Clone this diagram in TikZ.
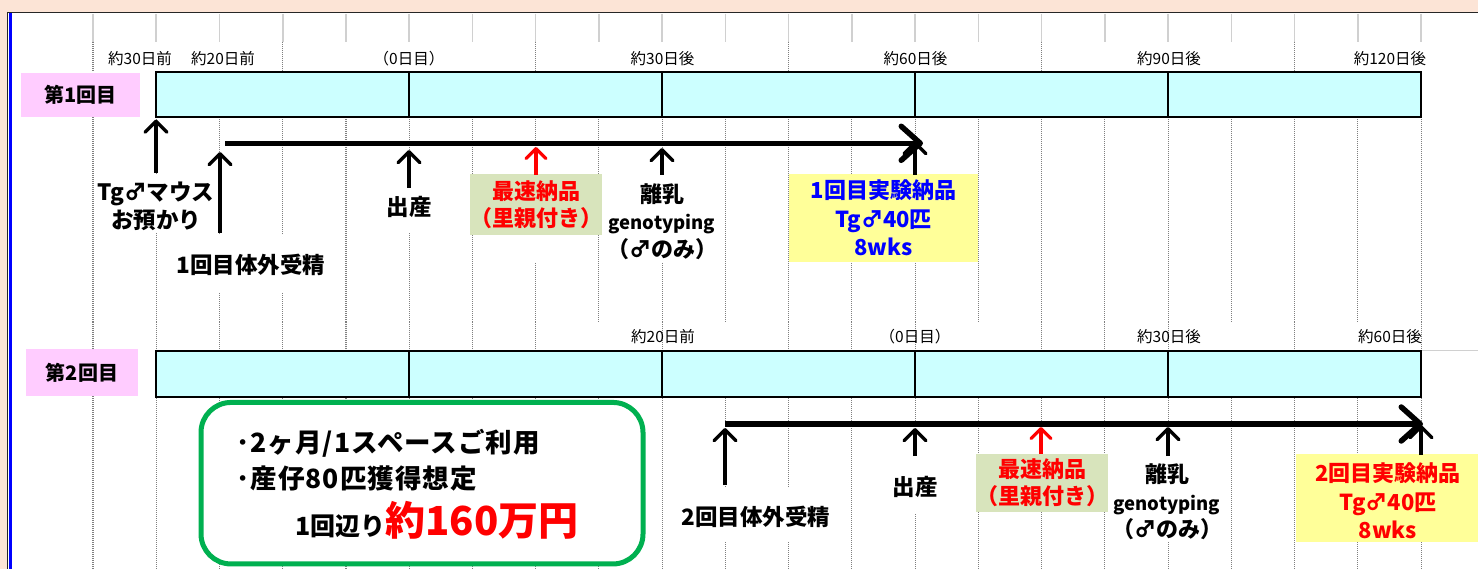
\documentclass[tikz,border=0pt]{standalone}
\usepackage{fontspec}
\setmainfont{Noto Sans CJK JP}
\usetikzlibrary{arrows.meta}
\definecolor{peach}{HTML}{FCE4D6}
\definecolor{barcyan}{HTML}{CCFFFF}
\definecolor{rowpink}{HTML}{FFCCFF}
\definecolor{olivebox}{HTML}{D8E4BC}
\definecolor{yelbox}{HTML}{FFFF99}
\definecolor{notegreen}{HTML}{00B050}
\definecolor{gridgray}{HTML}{7F7F7F}
\definecolor{lightgrid}{HTML}{D0D0D0}
\definecolor{txtblue}{HTML}{0000FF}
\definecolor{txtred}{HTML}{FF0000}
\begin{document}
\begin{tikzpicture}[x=1pt,y=-1pt,
  lgrid/.style={draw=lightgrid,line width=1.6pt},
  dgrid/.style={draw=gridgray,line width=1.1pt,dash pattern=on 1pt off 1pt},
  barbox/.style={draw=black,line width=2pt,fill=barcyan,inner sep=0pt},
  divider/.style={draw=black,line width=2.2pt},
  rowlab/.style={fill=rowpink,inner sep=0pt,font=\bfseries\fontsize{20}{22}\selectfont},
  tlab/.style={inner sep=0pt,font=\fontsize{15.5}{18}\selectfont},
  ev/.style={inner sep=0pt,align=center,font=\bfseries\fontsize{22.5}{28}\selectfont},
  fastbox/.style={fill=olivebox,inner sep=0pt,align=center,text=txtred,font=\bfseries\fontsize{22}{27}\selectfont},
  delivbox/.style={fill=yelbox,inner sep=0pt,align=center,font=\bfseries\fontsize{22}{28.5}\selectfont},
  notetext/.style={inner sep=0pt,anchor=west,font=\bfseries\fontsize{26.5}{30}\selectfont\addfontfeature{LetterSpace=4}},
  varrow/.style={line width=3.4pt,-{Straight Barb[length=11pt,width=22pt,line width=3.4pt,round]}},
  redarrow/.style={line width=3.2pt,draw=txtred,-{Straight Barb[length=10pt,width=20pt,line width=3.2pt,round]}},
  harrow/.style={line width=5.5pt,-{Straight Barb[length=19pt,width=34pt,line width=5.5pt,round]}}
]
\useasboundingbox (0,0) rectangle (1478,569);
% background and frame
\fill[peach] (0,0) rectangle (1478,569);
\fill[white] (8,13) rectangle (1478,569);
\draw[black!85,line width=1.5pt] (7,12.5) -- (1478,12.5);
\draw[black!85,line width=1pt] (7.3,12) -- (7.3,569);
\draw[blue,line width=2.6pt] (10.2,13) -- (10.2,569);
% light grid at the top
\foreach \i in {0,...,21}{\pgfmathsetmacro\xx{93+63.24*\i}\draw[lgrid] (\xx,14) -- (\xx,42);}
% dotted grid
\foreach \i in {0,3,7,11,15,19}{\pgfmathsetmacro\xx{93+63.24*\i}\draw[dgrid] (\xx,42) -- (\xx,72);}
\foreach \i in {0,...,21}{\pgfmathsetmacro\xx{93+63.24*\i}\draw[dgrid] (\xx,117) -- (\xx,322);}
\foreach \i in {0,1,2,3,4,5,6,7,9,11,12,13,15,16,17,19,21}{\pgfmathsetmacro\xx{93+63.24*\i}\draw[dgrid] (\xx,322) -- (\xx,351);}
\foreach \i in {0,...,21}{\pgfmathsetmacro\xx{93+63.24*\i}\draw[dgrid] (\xx,396) -- (\xx,569);}
\draw[lgrid,line width=1.3pt] (1421,350.7) -- (1478,350.7);
% cell covers
\fill[white] (100,175) rectangle (212,233);
\fill[white] (170,235) rectangle (330,292);
\fill[white] (380,188) rectangle (440,233);
\fill[white] (500,235) rectangle (572,262);
\fill[white] (605,175) rectangle (720,262);
\fill[white] (672,487) rectangle (840,541);
\fill[white] (885,456) rectangle (945,513);
\fill[white] (1110,456) rectangle (1228,541);

% ---------- row 1 ----------
\node[rowlab,minimum width=119pt,minimum height=44pt] (r1) at (80.5,95) {第1回目};
\node[barbox,minimum width=1265pt,minimum height=44.5pt] (bar1) at (788.5,94.7) {};
\foreach \xx in {409,662,915,1168}{\draw[divider] (\xx,72.5) -- (\xx,117);}
\node[tlab] (t1a) at (140,59) {約30日前};
\node[tlab] (t1b) at (223,59) {約20日前};
\node[tlab] (t1c) at (409,59) {（0日目）};
\node[tlab] (t1d) at (662.5,59) {約30日後};
\node[tlab] (t1e) at (915.5,59) {約60日後};
\node[tlab] (t1f) at (1169,59) {約90日後};
\node[tlab] (t1g) at (1390,59) {約120日後};

\node[ev] (tg) at (156,206) {Tg♂マウス\\お預かり};
\node[ev] (ivf1) at (251,265) {1回目体外受精};
\node[ev] (birth1) at (409,207) {出産};
\node[fastbox,minimum width=126pt,minimum height=61pt] (fast1) at (536,204.5) {最速納品\\（里親付き）};
\node[ev,font=\bfseries\fontsize{22}{27.5}\selectfont] (wean1) at (662,221.5) {離乳\\{\fontsize{18.5}{27.5}\selectfont genotyping}\\（♂のみ）};
\node[delivbox,text=txtblue,minimum width=189pt,minimum height=88pt] (deliv1) at (883.5,218) {1回目実験納品\\Tg♂40匹\\8wks};

\coordinate (a1s) at (156,173); \coordinate (a1e) at (156,119.5);
\coordinate (a2s) at (220,233); \coordinate (a2e) at (220,152);
\coordinate (a3s) at (409,188); \coordinate (a3e) at (409,150);
\coordinate (a4s) at (536,175); \coordinate (a4e) at (536,147);
\coordinate (a5s) at (662,175); \coordinate (a5e) at (662,148);
\coordinate (a6s) at (915,175); \coordinate (a6e) at (915,141);
\coordinate (h1s) at (225,143.3); \coordinate (h1e) at (923,143.3);
\draw[harrow] (h1s) -- (h1e);
\draw[varrow] (a1s) -- (a1e);
\draw[varrow] (a2s) -- (a2e);
\draw[varrow] (a3s) -- (a3e);
\draw[redarrow] (a4s) -- (a4e);
\draw[varrow] (a5s) -- (a5e);
\draw[varrow] (a6s) -- (a6e);

% ---------- row 2 ----------
\node[rowlab,minimum width=112pt,minimum height=47pt] (r2) at (82,372.5) {第2回目};
\node[barbox,minimum width=1265pt,minimum height=46pt] (bar2) at (788.5,373.7) {};
\foreach \xx in {409,662,915,1168}{\draw[divider,line width=1.8pt] (\xx,350.7) -- (\xx,396.7);}
\node[tlab] (t2a) at (663,336.7) {約20日前};
\node[tlab] (t2b) at (915,336.7) {（0日目）};
\node[tlab] (t2c) at (1169,336.7) {約30日後};
\node[tlab] (t2d) at (1390,336.7) {約60日後};

\node[draw=notegreen,line width=5pt,fill=white,rounded corners=30pt,minimum width=442pt,minimum height=161.5pt] (note) at (422,483.2) {};
\node[notetext] (n1) at (236,443) {･2ヶ月/1スペースご利用};
\node[notetext] (n2) at (236,478) {･産仔80匹獲得想定};
\node[inner sep=0pt,anchor=base west] (n3) at (295,535) {\bfseries\fontsize{25}{30}\selectfont 1回辺り{\color{txtred}\fontsize{40}{48}\selectfont 約160万円}};

\node[ev] (ivf2) at (756,517) {2回目体外受精};
\node[ev] (birth2) at (915,487) {出産};
\node[fastbox,minimum width=124pt,minimum height=58pt] (fast2) at (1042,483) {最速納品\\（里親付き）};
\node[ev,font=\bfseries\fontsize{22}{27.5}\selectfont] (wean2) at (1167,502) {離乳\\{\fontsize{18.5}{27.5}\selectfont genotyping}\\（♂のみ）};
\node[delivbox,text=txtred,minimum width=182pt,minimum height=88pt] (deliv2) at (1387,498) {};
\node[inner sep=0pt,align=center,text=txtred,font=\bfseries\fontsize{22}{28.5}\selectfont] (deliv2t) at (1388,501) {2回目実験納品\\Tg♂40匹\\8wks};

\coordinate (b1s) at (725,485); \coordinate (b1e) at (725,428);
\coordinate (b2s) at (915,456); \coordinate (b2e) at (915,428);
\coordinate (b3s) at (1041,454); \coordinate (b3e) at (1041,427);
\coordinate (b4s) at (1168,456); \coordinate (b4e) at (1168,427);
\coordinate (b5s) at (1421,455); \coordinate (b5e) at (1421,425);
\coordinate (h2s) at (725,424); \coordinate (h2e) at (1423,424);
\draw[harrow] (h2s) -- (h2e);
\draw[varrow] (b1s) -- (b1e);
\draw[varrow] (b2s) -- (b2e);
\draw[redarrow] (b3s) -- (b3e);
\draw[varrow] (b4s) -- (b4e);
\draw[varrow] (b5s) -- (b5e);
\end{tikzpicture}
\end{document}
